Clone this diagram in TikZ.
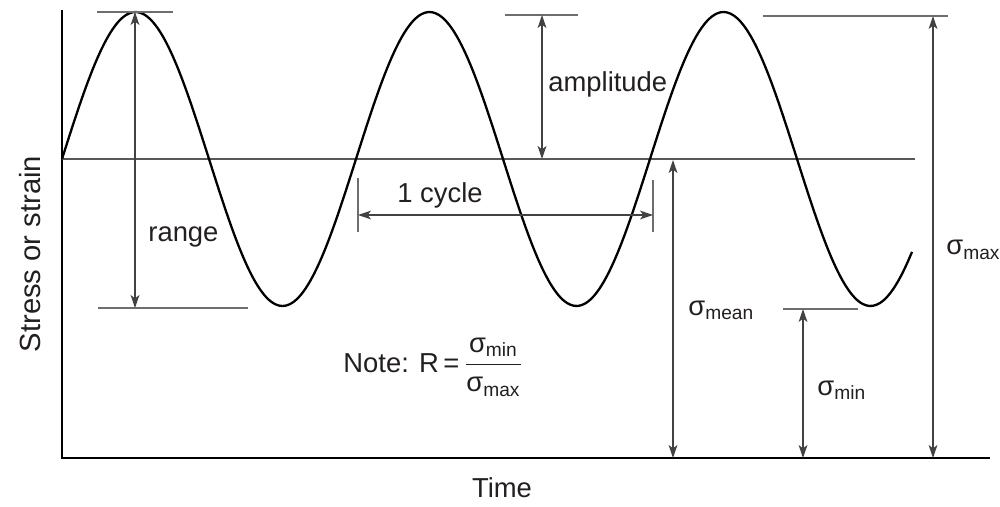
\documentclass[tikz,border=0pt]{standalone}
\usepackage{fontspec}
\setmainfont{Liberation Sans}
\usetikzlibrary{arrows.meta}
\definecolor{ink}{HTML}{231F20}
\definecolor{guide}{HTML}{6E6E6E}
\begin{document}
\begin{tikzpicture}[x=0.5pt,y=-0.5pt,
  lbl/.style={text=ink,font=\fontsize{13.7}{16}\selectfont,inner sep=0pt},
  axisline/.style={draw=black,line width=1.1pt},
  meanline/.style={draw=guide!80!black,line width=1pt},
  curve/.style={draw=black,line width=1.15pt},
  tickline/.style={draw=guide,line width=0.55pt},
  dim/.style={draw=guide!60!black,line width=0.6pt,{Stealth[length=6.5pt,width=4.4pt,inset=1.7pt]}-{Stealth[length=6.5pt,width=4.4pt,inset=1.7pt]}}
]
\useasboundingbox (0,0) rectangle (1000,507);
% axes
\coordinate (ytop) at (62,10);
\coordinate (orig) at (62,458);
\coordinate (xend) at (990,458);
\draw[axisline] (ytop) -- (orig) -- (xend);
% mean line
\coordinate (m0) at (62,159);
\coordinate (m1) at (915,159);
\draw[meanline] (m0) -- (m1);
% sine
\draw[curve] plot[domain=62:912,samples=240,smooth] (\x,{159-147*sin((\x-62)/294*360)});
% range
\coordinate (rt0) at (97,12);   \coordinate (rt1) at (173,12);
\coordinate (rb0) at (98,308);  \coordinate (rb1) at (248,308);
\draw[tickline] (rt0) -- (rt1);
\draw[tickline] (rb0) -- (rb1);
\coordinate (ra) at (135,12); \coordinate (rb) at (135,308);
\draw[dim] (ra) -- (rb);
\node[lbl,anchor=base west] (range) at (148,242) {range};
% amplitude
\coordinate (at0) at (505,15); \coordinate (at1) at (578,15);
\draw[tickline] (at0) -- (at1);
\coordinate (aa) at (542,15); \coordinate (ab) at (542,159);
\draw[dim] (aa) -- (ab);
\node[lbl,anchor=base west] (ampl) at (548,92) {amplitude};
% 1 cycle
\coordinate (c0a) at (358,178); \coordinate (c0b) at (358,232);
\coordinate (c1a) at (653,180); \coordinate (c1b) at (653,232);
\draw[tickline] (c0a) -- (c0b);
\draw[tickline] (c1a) -- (c1b);
\coordinate (ca) at (358,215); \coordinate (cb) at (653,215);
\draw[dim] (ca) -- (cb);
\node[lbl,anchor=base west] (cyc) at (397,203) {1 cycle};
% sigma mean
\coordinate (sma) at (673,160); \coordinate (smb) at (673,458);
\draw[dim] (sma) -- (smb);
\node[lbl,anchor=base west] (smean) at (688,315) {σ\textsubscript{mean}};
% sigma min
\coordinate (snt0) at (783,309); \coordinate (snt1) at (858,309);
\draw[tickline] (snt0) -- (snt1);
\coordinate (sna) at (803,309); \coordinate (snb) at (803,458);
\draw[dim] (sna) -- (snb);
\node[lbl,anchor=base west] (smin) at (817,395) {σ\textsubscript{min}};
% sigma max
\coordinate (sxt0) at (763,16); \coordinate (sxt1) at (948,16);
\draw[tickline] (sxt0) -- (sxt1);
\coordinate (sxa) at (933,16); \coordinate (sxb) at (933,458);
\draw[dim] (sxa) -- (sxb);
\node[lbl,anchor=base west] (smax) at (946,255) {σ\textsubscript{max}};
% note
\node[lbl,anchor=base west] (note) at (343,372) {Note: R\,=\,$\displaystyle\frac{\mbox{σ\textsubscript{min}}}{\mbox{σ\textsubscript{max}}}$};
% axis labels
\node[lbl,anchor=base] (time) at (502,497) {Time};
\node[lbl,rotate=90,font=\fontsize{14.6}{17}\selectfont] (ylab) at (30,254) {Stress or strain};
\end{tikzpicture}
\end{document}
